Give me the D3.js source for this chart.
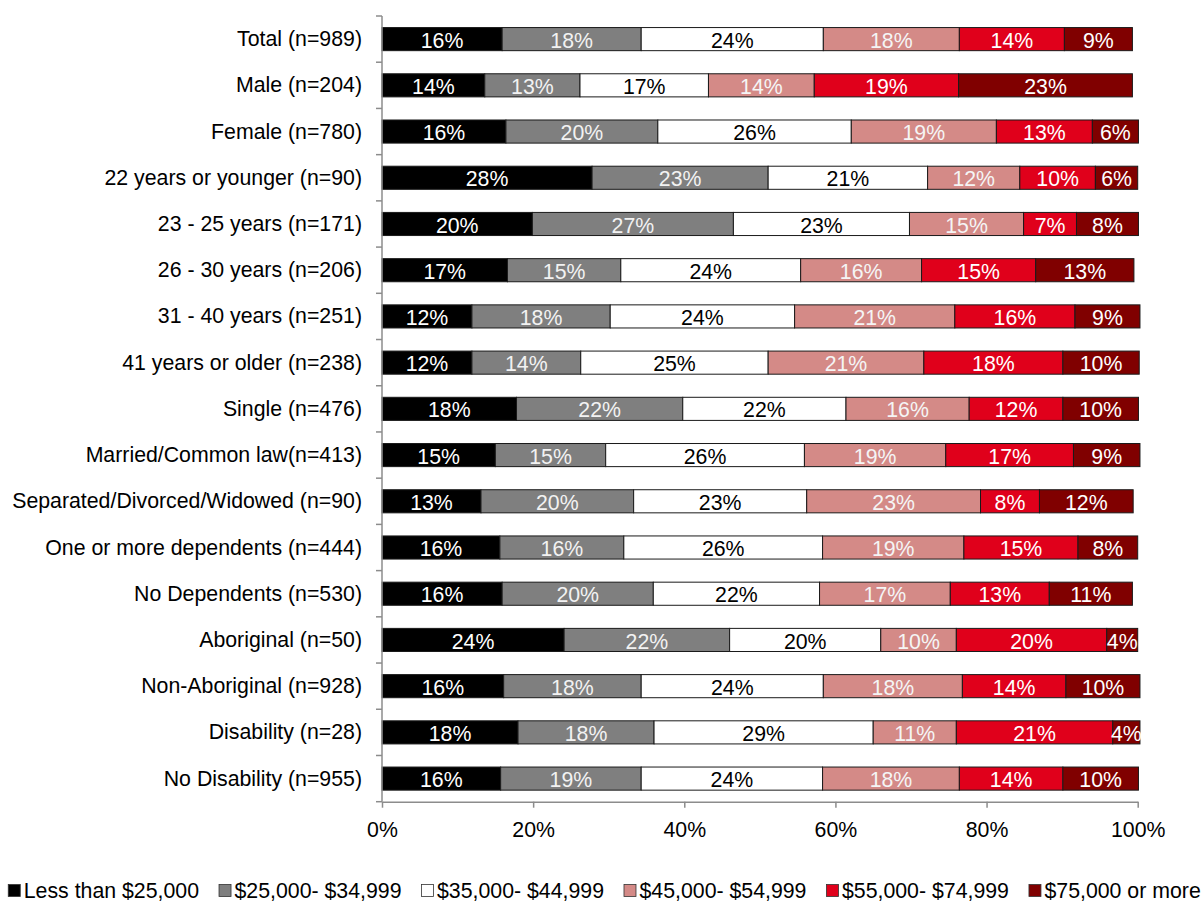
<!DOCTYPE html>
<html>
<head>
<meta charset="utf-8">
<script src="https://cdn.jsdelivr.net/npm/d3@7"></script>
<style>
  html, body { margin: 0; padding: 0; background: #fff; }
  svg { display: block; font-family: "Liberation Sans", Arial, sans-serif; }
</style>
</head>
<body>
<svg id="chart" width="1204" height="902"></svg>
<script>
// ---------- DATA ----------
const categories = [
  "Total (n=989)",
  "Male (n=204)",
  "Female (n=780)",
  "22 years or younger (n=90)",
  "23 - 25 years (n=171)",
  "26 - 30 years (n=206)",
  "31 - 40 years (n=251)",
  "41 years or older (n=238)",
  "Single (n=476)",
  "Married/Common law(n=413)",
  "Separated/Divorced/Widowed (n=90)",
  "One or more dependents (n=444)",
  "No Dependents (n=530)",
  "Aboriginal (n=50)",
  "Non-Aboriginal (n=928)",
  "Disability (n=28)",
  "No Disability (n=955)"
];

const seriesNames = [
  "Less than $25,000",
  "$25,000- $34,999",
  "$35,000- $44,999",
  "$45,000- $54,999",
  "$55,000- $74,999",
  "$75,000 or more"
];

const lessThan25k   = [15.9, 13.6, 16.4, 27.8, 19.9, 16.6, 11.9, 11.9, 17.8, 15.0, 13.1, 15.6, 15.9, 24.1, 16.1, 18.0, 15.7];
const from25to35k   = [18.4, 12.6, 20.1, 23.3, 26.6, 15.0, 18.3, 14.4, 22.0, 14.6, 20.2, 16.4, 20.0, 21.9, 18.2, 18.0, 18.6];
const from35to45k   = [24.1, 17.0, 25.6, 21.1, 23.3, 23.8, 24.4, 24.8, 21.6, 26.3, 22.9, 26.3, 22.0, 20.0, 24.1, 29.0, 24.0];
const from45to55k   = [18.0, 14.0, 19.2, 12.2, 15.1, 16.0, 21.2, 20.6, 16.3, 18.7, 23.0, 18.7, 17.3, 10.0, 18.4, 11.0, 18.1];
const from55to75k   = [13.9, 19.1, 12.7, 10.0,  7.0, 15.1, 15.9, 18.4, 12.4, 16.9,  7.8, 15.1, 13.1, 19.9, 13.7, 20.7, 13.7];
const over75k       = [ 9.0, 23.0,  6.1,  5.6,  8.2, 13.0,  8.6, 10.1, 10.0,  8.8, 12.4,  7.9, 11.0,  4.1,  9.8,  3.6, 10.0];

const xTickValues = [0, 20, 40, 60, 80, 100];

// ---------- STYLE ----------
const colors = ["#000000", "#7f7f7f", "#ffffff", "#d48a87", "#e0001b", "#800000"];
const labelColors = ["#ffffff", "#f2f2f2", "#000000", "#f5f5f5", "#ffffff", "#ffffff"];
const FONT = 21.3;

// ---------- BUILD TABLE ----------
const seriesArrays = [lessThan25k, from25to35k, from35to45k, from45to55k, from55to75k, over75k];
const table = categories.map((c, i) => {
  const row = { category: c };
  seriesNames.forEach((s, k) => { row[s] = seriesArrays[k][i]; });
  return row;
});
const stacked = d3.stack().keys(seriesNames)(table);

// ---------- LAYOUT ----------
const svg = d3.select("#chart");
const x = d3.scaleLinear().domain([0, 100]).range([382, 1137.7]);
const y = d3.scaleBand().domain(categories).range([16, 801.7]).paddingInner(0.5).paddingOuter(0.25);

// bars
const layers = svg.append("g").selectAll("g")
  .data(stacked).join("g")
  .attr("fill", (d, i) => colors[i]);

layers.selectAll("rect")
  .data(d => d.map(p => ({ p, key: d.key })))
  .join("rect")
  .attr("x", d => x(d.p[0]))
  .attr("y", d => y(d.p.data.category))
  .attr("width", d => x(d.p[1]) - x(d.p[0]))
  .attr("height", y.bandwidth())
  .attr("stroke", "#1a1a1a")
  .attr("stroke-width", 1);

// bar labels
stacked.forEach((layer, k) => {
  svg.append("g").selectAll("text")
    .data(layer).join("text")
    .attr("x", d => (x(d[0]) + x(d[1])) / 2)
    .attr("y", d => y(d.data.category) + y.bandwidth() / 2 + 8.6)
    .attr("text-anchor", "middle")
    .attr("font-size", FONT)
    .attr("fill", labelColors[k])
    .text(d => Math.round(d[1] - d[0]) + "%");
});

// y axis (category axis) with ticks at band boundaries
const axisColor = "#8c8c8c";
const yAxisG = svg.append("g");
yAxisG.append("line")
  .attr("x1", x(0)).attr("x2", x(0))
  .attr("y1", y.range()[0]).attr("y2", y.range()[1])
  .attr("stroke", axisColor).attr("stroke-width", 1.5);
const boundaries = d3.range(categories.length + 1).map(i => y.range()[0] + i * y.step());
yAxisG.selectAll("line.tick")
  .data(boundaries).join("line")
  .attr("class", "tick")
  .attr("x1", x(0) - 6).attr("x2", x(0))
  .attr("y1", d => d).attr("y2", d => d)
  .attr("stroke", axisColor).attr("stroke-width", 1.5);
yAxisG.selectAll("text")
  .data(categories).join("text")
  .attr("x", x(0) - 20)
  .attr("y", d => y(d) + y.bandwidth() / 2 + 7)
  .attr("text-anchor", "end")
  .attr("font-size", FONT)
  .attr("fill", "#000")
  .text(d => d);

// x axis
const xAxis = d3.axisBottom(x).tickValues(xTickValues).tickFormat(d => d + "%").tickSize(6).tickSizeOuter(0).tickPadding(14);
const xAxisG = svg.append("g").attr("transform", `translate(0,${y.range()[1]})`).call(xAxis);
xAxisG.select(".domain").attr("stroke", axisColor).attr("stroke-width", 1.5);
xAxisG.selectAll(".tick line").attr("stroke", axisColor).attr("stroke-width", 1.5);
xAxisG.selectAll(".tick text")
  .attr("font-size", FONT)
  .attr("font-family", "'Liberation Sans', Arial, sans-serif")
  .attr("fill", "#000");

// legend
const legend = svg.append("g");
const items = legend.selectAll("g").data(seriesNames).join("g");
items.append("rect")
  .attr("width", 12).attr("height", 12)
  .attr("y", 884.5)
  .attr("fill", (d, i) => colors[i])
  .attr("stroke", "#333").attr("stroke-width", 0.8);
items.append("text")
  .attr("x", 15.5)
  .attr("y", 897.5)
  .attr("font-size", FONT)
  .attr("fill", "#000")
  .text(d => d);
let cursor = 0;
const gap = 20;
const offsets = [];
items.each(function () {
  offsets.push(cursor);
  const w = this.querySelector("text").getComputedTextLength();
  cursor += 15.5 + w + gap;
});
const totalW = cursor - gap;
const startX = 604.5 - totalW / 2;
items.attr("transform", (d, i) => `translate(${startX + offsets[i]},0)`);
</script>
</body>
</html>
